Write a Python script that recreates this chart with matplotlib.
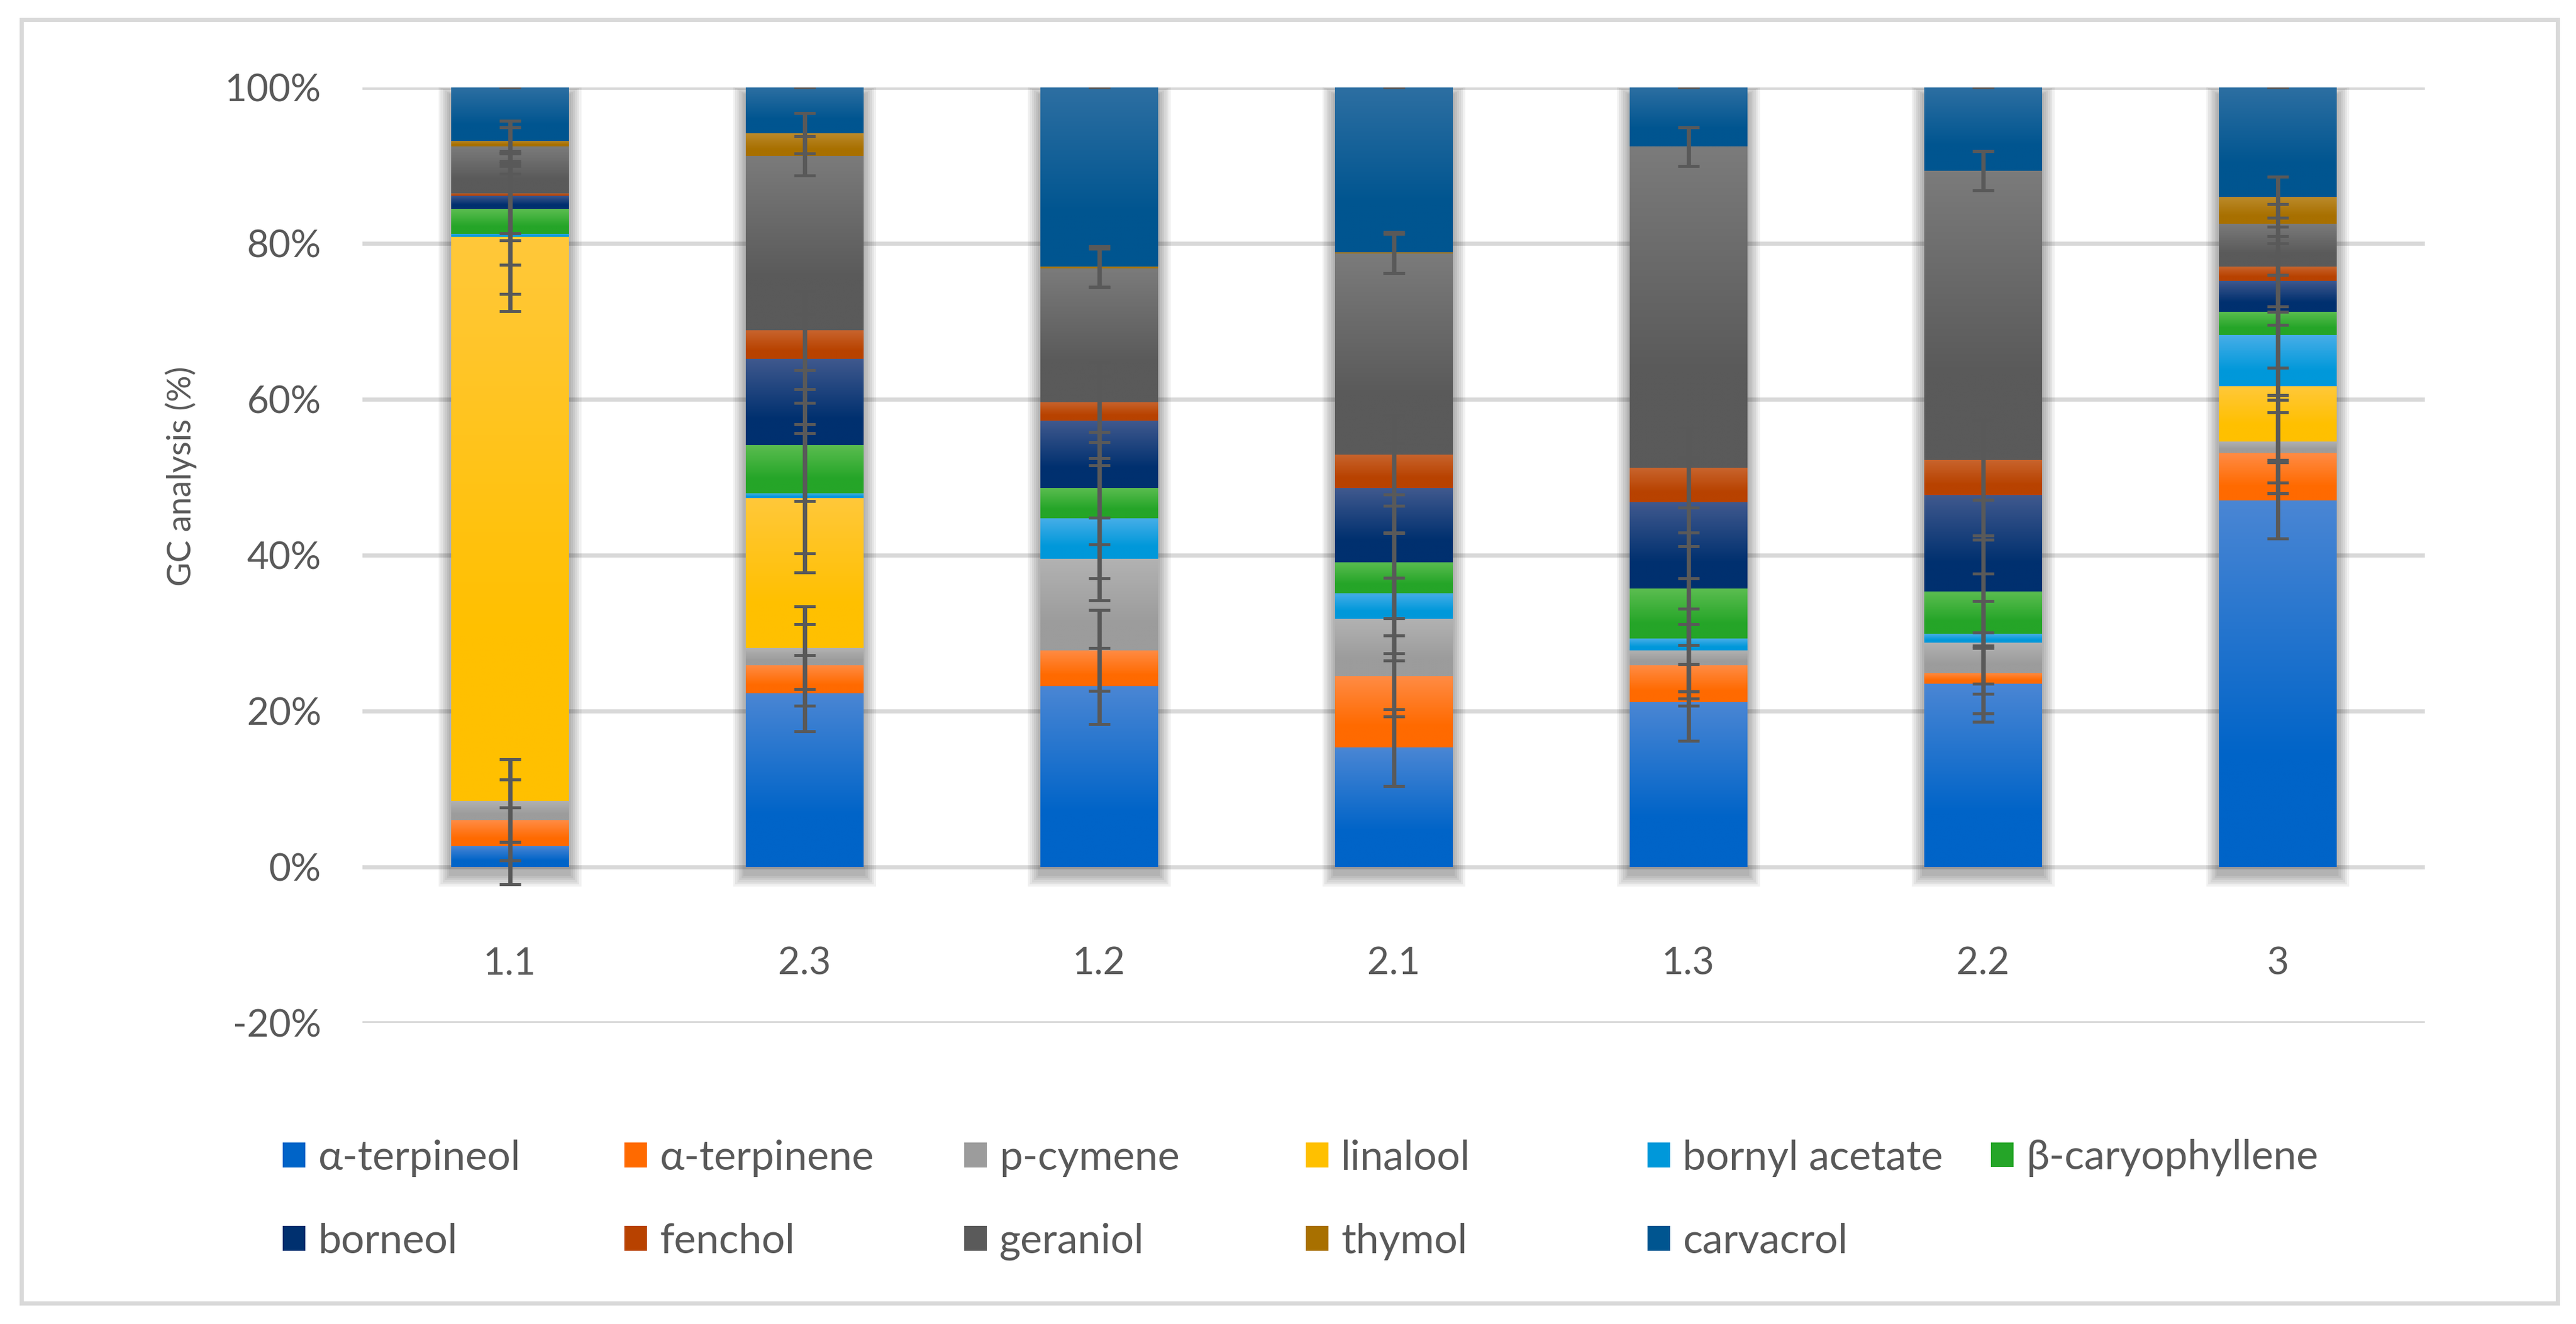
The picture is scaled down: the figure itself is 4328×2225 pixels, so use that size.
import numpy as np
import matplotlib
matplotlib.use("Agg")
import matplotlib.pyplot as plt
from matplotlib.colors import to_rgb
from matplotlib.patches import Rectangle, Patch

plt.rcParams['font.family'] = ['Lato', 'Noto Sans', 'DejaVu Sans']

# ---------------- data ----------------
samples = ['1.1', '2.3', '1.2', '2.1', '1.3', '2.2', '3']
compounds = ['α-terpineol', 'α-terpinene', 'p-cymene', 'linalool', 'bornyl acetate',
             'β-caryophyllene', 'borneol', 'fenchol', 'geraniol', 'thymol', 'carvacrol']

terpineol      = [2.7, 22.3, 23.2, 15.3, 21.1, 23.5, 47.0]
terpinene      = [3.3, 3.6, 4.6, 9.2, 4.8, 1.4, 6.1]
p_cymene       = [2.5, 2.2, 11.7, 7.3, 1.9, 3.9, 1.5]
linalool       = [72.3, 19.2, 0.0, 0.0, 0.0, 0.0, 7.1]
bornyl_acetate = [0.4, 0.6, 5.2, 3.3, 1.5, 1.1, 6.5]
caryophyllene  = [3.2, 6.2, 3.9, 4.0, 6.4, 5.4, 3.0]
borneol        = [1.7, 11.1, 8.6, 9.5, 11.1, 12.4, 4.0]
fenchol        = [0.3, 3.6, 2.4, 4.3, 4.4, 4.5, 1.8]
geraniol       = [6.0, 22.4, 17.2, 25.8, 41.2, 37.1, 5.5]
thymol         = [0.7, 2.9, 0.2, 0.1, 0.0, 0.0, 3.4]
carvacrol      = [6.9, 5.9, 23.0, 21.2, 7.6, 10.7, 14.1]

series = [terpineol, terpinene, p_cymene, linalool, bornyl_acetate, caryophyllene,
          borneol, fenchol, geraniol, thymol, carvacrol]

# error (± %) per compound
errors = [4.9, 5.2, 5.3, 9.5, 7.7, 7.2, 5.7, 5.1, 2.5, 2.6, 0.0]

# ---------------- style ----------------
base_colors = ['#0064C8', '#FF6A00', '#9C9C9C', '#FFC000', '#0098DA', '#25A528',
               '#00306F', '#B84200', '#5A5A5A', '#A87000', '#005590']
top_colors  = ['#4A86D4', '#FF8C45', '#B2B2B2', '#FFC83A', '#47AEE8', '#5BBD50',
               '#40598E', '#C8642D', '#7B7B7B', '#BB8A2A', '#2D6FA2']
text_color = '#595959'

W, H, DPI = 4328, 2225, 200
fig = plt.figure(figsize=(W / DPI, H / DPI), dpi=DPI)
ax = fig.add_axes([609 / W, 1 - 1719 / H, (4074 - 609) / W, (1719 - 146.7) / H])

x = np.arange(len(samples))
width = 0.40
px_x = (4074 - 609) / len(samples)        # pixels per x unit
px_y = (1719 - 146.7) / 120.0             # pixels per % unit

# soft shadow behind each column
totals = np.sum(np.array(series), axis=0)
for xi, tot in zip(x, totals):
    for k in range(1, 7):
        e = k * 3.5
        ex, ey = e / px_x, e / px_y
        off = 12 / px_y
        ax.add_patch(Rectangle((xi - width / 2 - ex, -off - ey), width + 2 * ex,
                               tot + 2 * ey - 0.4 * ey,
                               facecolor='black', edgecolor='none', alpha=0.055, zorder=1))

bottom = np.zeros(len(samples))
tops_all = []
n_grad = 120
t = np.linspace(0, 1, n_grad)
for vals, bc, tc in zip(series, base_colors, top_colors):
    vals = np.array(vals)
    bars = ax.bar(x, vals, width, bottom=bottom, color=bc, linewidth=0, zorder=2)
    f = np.clip(t / 0.7, 0, 1)[:, None]
    grad = (np.array(to_rgb(tc))[None, :] * (1 - f) + np.array(to_rgb(bc))[None, :] * f)
    grad = grad[:, None, :]
    for p in bars.patches:
        if p.get_height() <= 0:
            continue
        x0, y0 = p.get_x(), p.get_y()
        ax.imshow(grad, extent=[x0, x0 + p.get_width(), y0, y0 + p.get_height()],
                  origin='upper', aspect='auto', interpolation='bilinear', zorder=2.5)
    bottom = bottom + vals
    tops_all.append(bottom.copy())

for vals, tops, err in zip(series, tops_all, errors):
    vals = np.array(vals)
    m = vals > 0
    ax.errorbar(x[m], tops[m], yerr=err, fmt='none', ecolor=text_color,
                elinewidth=2.6, capsize=6.5, capthick=1.8, zorder=4)

ax.set_xlim(-0.5, len(samples) - 0.5)
ax.set_ylim(-20, 100)
ax.set_yticks(np.arange(-20, 101, 20))
ax.set_yticklabels([f'{v}%' for v in range(-20, 101, 20)])
ax.set_xticks(x)
ax.set_xticklabels(samples)
ax.set_aspect('auto')

ax.yaxis.grid(True, color='#D9D9D9', linewidth=2.5)
ax.set_axisbelow(True)
for s in ax.spines.values():
    s.set_visible(False)
ax.spines['bottom'].set_position(('data', 0))
ax.tick_params(axis='y', length=0, pad=25, labelsize=23, labelcolor=text_color)
ax.tick_params(axis='x', length=0, pad=48, labelsize=23, labelcolor=text_color)

fig.text(304 / W, 1 - 800 / H, 'GC analysis (%)', rotation=90, ha='center', va='center',
         fontsize=20, color=text_color)

# legend (equal-width columns like the original)
col_x = [475, 1049, 1620, 2194, 2768, 3345]
row_y = [1946, 2086]
for i, (name, bc) in enumerate(zip(compounds, base_colors)):
    r, c = divmod(i, 6)
    fig.legend(handles=[Patch(facecolor=bc, edgecolor='none')], labels=[name],
               loc='center left', bbox_to_anchor=(col_x[c] / W, 1 - row_y[r] / H),
               bbox_transform=fig.transFigure, frameon=False, fontsize=25,
               handlelength=0.55, handleheight=0.55, handletextpad=0.3,
               borderpad=0, borderaxespad=0, labelcolor=text_color)

# chart border
fig.patches.append(Rectangle((36 / W, 1 - 2190 / H), (4297 - 36) / W, (2190 - 33) / H,
                             transform=fig.transFigure, fill=False,
                             edgecolor='#D9D9D9', linewidth=2.5))

fig.savefig('out.png', dpi=DPI, facecolor='white')
